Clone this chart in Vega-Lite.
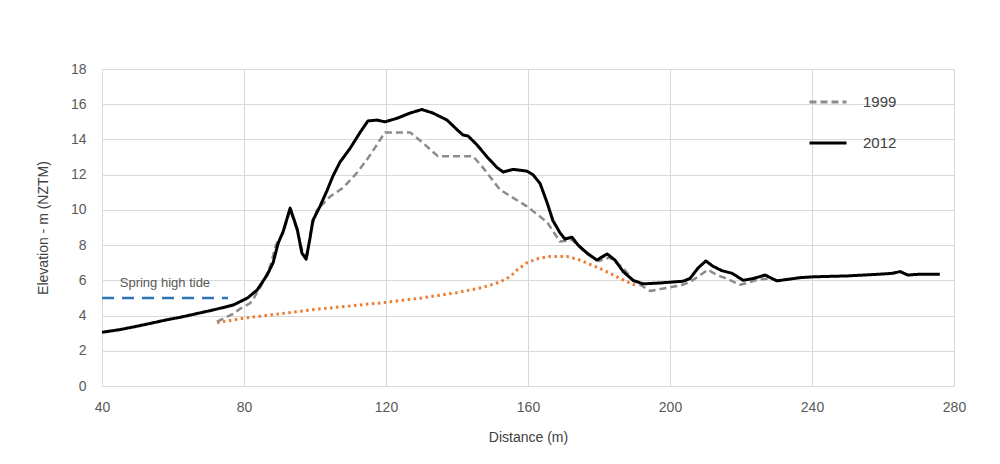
{
  "$schema": "https://vega.github.io/schema/vega-lite/v6.json",
  "autosize": {"type": "none"},
  "width": 852,
  "height": 317,
  "padding": {"left": 102, "top": 69, "right": 46, "bottom": 78},
  "background": "white",
  "config": {
    "view": {"stroke": null},
    "font": "Liberation Sans",
    "axis": {
      "gridColor": "#d9d9d9",
      "gridWidth": 1,
      "domain": false,
      "ticks": false,
      "labelFontSize": 14,
      "labelColor": "#595959",
      "labelFlush": false,
      "titleFontSize": 14,
      "titleFontWeight": "normal",
      "titleColor": "#404040"
    }
  },
  "datasets": {
    "profiles": [
      {"series": "2012", "distance": 40, "elevation": 3.05},
      {"series": "2012", "distance": 45, "elevation": 3.2},
      {"series": "2012", "distance": 50, "elevation": 3.4},
      {"series": "2012", "distance": 53.5, "elevation": 3.55},
      {"series": "2012", "distance": 58, "elevation": 3.75},
      {"series": "2012", "distance": 62, "elevation": 3.9},
      {"series": "2012", "distance": 67.6, "elevation": 4.15},
      {"series": "2012", "distance": 72, "elevation": 4.35},
      {"series": "2012", "distance": 77, "elevation": 4.6},
      {"series": "2012", "distance": 79, "elevation": 4.8},
      {"series": "2012", "distance": 81, "elevation": 5.0},
      {"series": "2012", "distance": 83.7, "elevation": 5.45},
      {"series": "2012", "distance": 86.5, "elevation": 6.3},
      {"series": "2012", "distance": 88.2, "elevation": 7.0},
      {"series": "2012", "distance": 89.6, "elevation": 8.1},
      {"series": "2012", "distance": 91, "elevation": 8.75},
      {"series": "2012", "distance": 93, "elevation": 10.1},
      {"series": "2012", "distance": 95, "elevation": 8.9},
      {"series": "2012", "distance": 96.3, "elevation": 7.55},
      {"series": "2012", "distance": 97.5, "elevation": 7.2},
      {"series": "2012", "distance": 98.6, "elevation": 8.4},
      {"series": "2012", "distance": 99.4, "elevation": 9.4},
      {"series": "2012", "distance": 101.4, "elevation": 10.2},
      {"series": "2012", "distance": 103.4, "elevation": 11.1},
      {"series": "2012", "distance": 105, "elevation": 11.9},
      {"series": "2012", "distance": 107, "elevation": 12.7},
      {"series": "2012", "distance": 109.9, "elevation": 13.5},
      {"series": "2012", "distance": 112.7, "elevation": 14.4},
      {"series": "2012", "distance": 114.9, "elevation": 15.05},
      {"series": "2012", "distance": 117.5, "elevation": 15.1},
      {"series": "2012", "distance": 119.7, "elevation": 15.0},
      {"series": "2012", "distance": 123.1, "elevation": 15.2},
      {"series": "2012", "distance": 126.8, "elevation": 15.5},
      {"series": "2012", "distance": 130.1, "elevation": 15.7},
      {"series": "2012", "distance": 133.2, "elevation": 15.5},
      {"series": "2012", "distance": 137.2, "elevation": 15.1},
      {"series": "2012", "distance": 140.3, "elevation": 14.5},
      {"series": "2012", "distance": 141.7, "elevation": 14.25},
      {"series": "2012", "distance": 143.1, "elevation": 14.2},
      {"series": "2012", "distance": 145.6, "elevation": 13.7},
      {"series": "2012", "distance": 148.5, "elevation": 13.0},
      {"series": "2012", "distance": 151.3, "elevation": 12.4},
      {"series": "2012", "distance": 153, "elevation": 12.15},
      {"series": "2012", "distance": 155.8, "elevation": 12.3},
      {"series": "2012", "distance": 159.7, "elevation": 12.2},
      {"series": "2012", "distance": 161.4, "elevation": 12.0},
      {"series": "2012", "distance": 163.4, "elevation": 11.5},
      {"series": "2012", "distance": 165.4, "elevation": 10.4},
      {"series": "2012", "distance": 167, "elevation": 9.4},
      {"series": "2012", "distance": 169, "elevation": 8.7},
      {"series": "2012", "distance": 170.4, "elevation": 8.35},
      {"series": "2012", "distance": 172.4, "elevation": 8.45},
      {"series": "2012", "distance": 174.1, "elevation": 8.0},
      {"series": "2012", "distance": 176.6, "elevation": 7.55},
      {"series": "2012", "distance": 179.4, "elevation": 7.15},
      {"series": "2012", "distance": 182.3, "elevation": 7.5},
      {"series": "2012", "distance": 184.5, "elevation": 7.15},
      {"series": "2012", "distance": 186.8, "elevation": 6.5},
      {"series": "2012", "distance": 189.6, "elevation": 6.0},
      {"series": "2012", "distance": 192.4, "elevation": 5.8},
      {"series": "2012", "distance": 197.2, "elevation": 5.85},
      {"series": "2012", "distance": 203.7, "elevation": 5.95},
      {"series": "2012", "distance": 205.6, "elevation": 6.1},
      {"series": "2012", "distance": 207.9, "elevation": 6.7},
      {"series": "2012", "distance": 210.1, "elevation": 7.1},
      {"series": "2012", "distance": 212.1, "elevation": 6.8},
      {"series": "2012", "distance": 214.6, "elevation": 6.55},
      {"series": "2012", "distance": 217.5, "elevation": 6.4},
      {"series": "2012", "distance": 220.6, "elevation": 6.0},
      {"series": "2012", "distance": 223.4, "elevation": 6.1},
      {"series": "2012", "distance": 226.8, "elevation": 6.3},
      {"series": "2012", "distance": 230.1, "elevation": 5.97},
      {"series": "2012", "distance": 233, "elevation": 6.05},
      {"series": "2012", "distance": 236.6, "elevation": 6.15},
      {"series": "2012", "distance": 240.3, "elevation": 6.2},
      {"series": "2012", "distance": 249.9, "elevation": 6.25},
      {"series": "2012", "distance": 259.2, "elevation": 6.35},
      {"series": "2012", "distance": 262.8, "elevation": 6.4},
      {"series": "2012", "distance": 264.8, "elevation": 6.5},
      {"series": "2012", "distance": 267, "elevation": 6.3},
      {"series": "2012", "distance": 270.4, "elevation": 6.35},
      {"series": "2012", "distance": 276, "elevation": 6.35},

      {"series": "1999", "distance": 72.4, "elevation": 3.65},
      {"series": "1999", "distance": 76.9, "elevation": 4.1},
      {"series": "1999", "distance": 79, "elevation": 4.4},
      {"series": "1999", "distance": 81.7, "elevation": 4.7},
      {"series": "1999", "distance": 82.5, "elevation": 4.9},
      {"series": "1999", "distance": 85.4, "elevation": 5.9},
      {"series": "1999", "distance": 87.3, "elevation": 6.75},
      {"series": "1999", "distance": 89, "elevation": 8.0},
      {"series": "1999", "distance": 91, "elevation": 8.7},
      {"series": "1999", "distance": 93, "elevation": 10.0},
      {"series": "1999", "distance": 95, "elevation": 8.8},
      {"series": "1999", "distance": 96.5, "elevation": 7.6},
      {"series": "1999", "distance": 97.8, "elevation": 7.4},
      {"series": "1999", "distance": 99, "elevation": 9.0},
      {"series": "1999", "distance": 100.6, "elevation": 10.0},
      {"series": "1999", "distance": 104.2, "elevation": 10.75},
      {"series": "1999", "distance": 107.9, "elevation": 11.25},
      {"series": "1999", "distance": 111.8, "elevation": 12.1},
      {"series": "1999", "distance": 115.5, "elevation": 13.1},
      {"series": "1999", "distance": 119.7, "elevation": 14.4},
      {"series": "1999", "distance": 126.8, "elevation": 14.4},
      {"series": "1999", "distance": 130.4, "elevation": 13.8},
      {"series": "1999", "distance": 134.6, "elevation": 13.05},
      {"series": "1999", "distance": 144.5, "elevation": 13.05},
      {"series": "1999", "distance": 147.3, "elevation": 12.4},
      {"series": "1999", "distance": 152.1, "elevation": 11.15},
      {"series": "1999", "distance": 159.7, "elevation": 10.2},
      {"series": "1999", "distance": 165.4, "elevation": 9.3},
      {"series": "1999", "distance": 169, "elevation": 8.2},
      {"series": "1999", "distance": 172.4, "elevation": 8.3},
      {"series": "1999", "distance": 176.6, "elevation": 7.5},
      {"series": "1999", "distance": 180, "elevation": 7.1},
      {"series": "1999", "distance": 183, "elevation": 7.3},
      {"series": "1999", "distance": 186.8, "elevation": 6.7},
      {"series": "1999", "distance": 189.6, "elevation": 6.0},
      {"series": "1999", "distance": 194.4, "elevation": 5.4},
      {"series": "1999", "distance": 202.8, "elevation": 5.7},
      {"series": "1999", "distance": 205.6, "elevation": 5.9},
      {"series": "1999", "distance": 210.7, "elevation": 6.6},
      {"series": "1999", "distance": 213.2, "elevation": 6.3},
      {"series": "1999", "distance": 216, "elevation": 6.1},
      {"series": "1999", "distance": 219.7, "elevation": 5.75},
      {"series": "1999", "distance": 221.7, "elevation": 5.85},
      {"series": "1999", "distance": 225, "elevation": 6.05},
      {"series": "1999", "distance": 228, "elevation": 6.1},
      {"series": "1999", "distance": 231, "elevation": 5.95}
    ],
    "base": [
      {"distance": 72.4, "elevation": 3.6},
      {"distance": 80, "elevation": 3.85},
      {"distance": 90, "elevation": 4.1},
      {"distance": 100, "elevation": 4.35},
      {"distance": 110, "elevation": 4.55},
      {"distance": 120, "elevation": 4.75},
      {"distance": 130, "elevation": 5.0},
      {"distance": 140, "elevation": 5.3},
      {"distance": 147.3, "elevation": 5.6},
      {"distance": 152, "elevation": 5.9},
      {"distance": 154.9, "elevation": 6.2},
      {"distance": 157, "elevation": 6.6},
      {"distance": 159.7, "elevation": 7.0},
      {"distance": 163, "elevation": 7.25},
      {"distance": 166.2, "elevation": 7.35},
      {"distance": 171, "elevation": 7.35},
      {"distance": 174, "elevation": 7.2},
      {"distance": 177.5, "elevation": 6.9},
      {"distance": 180, "elevation": 6.7},
      {"distance": 183.1, "elevation": 6.4},
      {"distance": 186, "elevation": 6.1},
      {"distance": 188.7, "elevation": 5.85},
      {"distance": 191, "elevation": 5.65}
    ],
    "tide": [
      {"distance": 40, "elevation": 5.0},
      {"distance": 75.5, "elevation": 5.0}
    ],
    "notes": [
      {"label": "Spring high tide", "distance": 45, "elevation": 5.85}
    ]
  },
  "encoding": {
    "x": {
      "field": "distance",
      "type": "quantitative",
      "scale": {"domain": [40, 280], "nice": false},
      "axis": {"values": [40, 80, 120, 160, 200, 240, 280], "title": "Distance (m)", "labelPadding": 14, "titlePadding": 16}
    },
    "y": {
      "field": "elevation",
      "type": "quantitative",
      "scale": {"domain": [0, 18], "nice": false},
      "axis": {"values": [0, 2, 4, 6, 8, 10, 12, 14, 16, 18], "title": "Elevation - m (NZTM)", "labelPadding": 16, "titlePadding": 20}
    }
  },
  "layer": [
    {
      "data": {"name": "tide"},
      "mark": {"type": "line", "color": "#2E75B6", "strokeWidth": 2.5, "strokeDash": [12, 8]}
    },
    {
      "data": {"name": "base"},
      "mark": {"type": "line", "color": "#ED7D31", "strokeWidth": 3, "strokeDash": [2.5, 3.5]}
    },
    {
      "data": {"name": "profiles"},
      "transform": [{"filter": "datum.series === '1999'"}],
      "mark": {"type": "line", "strokeWidth": 2.5, "strokeJoin": "round"},
      "encoding": {
        "color": {
          "field": "series",
          "type": "nominal",
          "scale": {"domain": ["1999", "2012"], "range": ["#8c8c8c", "#000000"]},
          "legend": {
            "orient": "none", "legendX": 706, "legendY": 13, "title": null,
            "symbolType": "stroke", "symbolSize": 1369, "symbolStrokeWidth": 3,
            "labelFontSize": 15, "labelColor": "#404040", "labelOffset": 15, "rowPadding": 13
          }
        },
        "strokeDash": {
          "field": "series",
          "type": "nominal",
          "scale": {"domain": ["1999", "2012"], "range": [[7, 4], [1, 0]]},
          "legend": {
            "orient": "none", "legendX": 706, "legendY": 13, "title": null,
            "symbolType": "stroke", "symbolSize": 1369, "symbolStrokeWidth": 3,
            "labelFontSize": 15, "labelColor": "#404040", "labelOffset": 15, "rowPadding": 13
          }
        }
      }
    },
    {
      "data": {"name": "profiles"},
      "transform": [{"filter": "datum.series === '2012'"}],
      "mark": {"type": "line", "strokeWidth": 3, "strokeJoin": "round"},
      "encoding": {
        "color": {"field": "series", "type": "nominal"},
        "strokeDash": {"field": "series", "type": "nominal"}
      }
    },
    {
      "data": {"name": "notes"},
      "mark": {"type": "text", "align": "left", "baseline": "middle", "fontSize": 13, "color": "#595959"},
      "encoding": {"text": {"field": "label"}}
    }
  ]
}
